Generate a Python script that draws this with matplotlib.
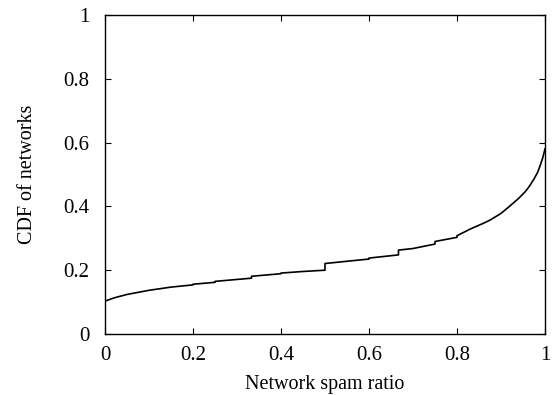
import matplotlib
matplotlib.use("Agg")
import matplotlib.pyplot as plt

plt.rcParams['font.family'] = ['Liberation Serif', 'DejaVu Serif']

spam_ratio = [0, 0.02, 0.05, 0.1, 0.15, 0.2, 0.2, 0.25, 0.25, 0.3, 0.333, 0.333,
              0.4, 0.4, 0.45, 0.5, 0.5, 0.55, 0.6, 0.6, 0.667, 0.667, 0.7, 0.75,
              0.75, 0.8, 0.8, 0.83, 0.86, 0.875, 0.9, 0.92, 0.94, 0.955, 0.965,
              0.975, 0.983, 0.99, 0.995, 1.0]
cdf = [0.103, 0.113, 0.124, 0.137, 0.147, 0.154, 0.156, 0.162, 0.165, 0.171,
       0.175, 0.181, 0.189, 0.191, 0.196, 0.200, 0.221, 0.228, 0.235, 0.238,
       0.248, 0.263, 0.268, 0.282, 0.290, 0.303, 0.308, 0.329, 0.347, 0.357,
       0.378, 0.401, 0.425, 0.446, 0.464, 0.486, 0.506, 0.532, 0.553, 0.58]
ticks = [0, 0.2, 0.4, 0.6, 0.8, 1]
tick_labels = ['0', '0.2', '0.4', '0.6', '0.8', '1']

fig = plt.figure(figsize=(5.52, 3.95), dpi=100)
ax = fig.add_axes([105/552, 1-334/395, 440/552, 319/395])
ax.plot(spam_ratio, cdf, color='black', linewidth=1.2)
ax.set_xlim(0, 1)
ax.set_ylim(0, 1)
ax.set_xticks(ticks)
ax.set_xticklabels(tick_labels)
ax.set_yticks(ticks)
ax.set_yticklabels(tick_labels)
ax.tick_params(direction='in', top=True, right=True, length=4, width=0.8,
               labelsize=15)
ax.tick_params(axis='x', pad=9)
ax.tick_params(axis='y', pad=11)
for s in ax.spines.values():
    s.set_linewidth(1.0)
ax.set_xlabel('Network spam ratio', fontsize=14.5, labelpad=6.5)
ax.set_ylabel('CDF of networks', fontsize=14.5, labelpad=19)
fig.savefig('out.png', dpi=100)
